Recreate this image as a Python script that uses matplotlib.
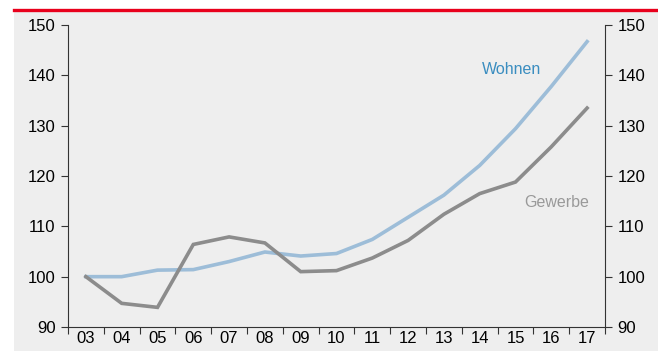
import numpy as np
import matplotlib.pyplot as plt
from matplotlib.patches import Rectangle
from matplotlib.lines import Line2D

# Jahre und Indexwerte (2003 = 100)
jahre = ['03', '04', '05', '06', '07', '08', '09', '10', '11', '12', '13', '14', '15', '16', '17']
wohnen = [100, 100, 101.3, 101.4, 103.0, 104.9, 104.1, 104.6, 107.4, 111.8, 116.2, 122.1, 129.4, 137.8, 146.7]
gewerbe = [100, 94.7, 93.9, 106.4, 107.9, 106.7, 101.0, 101.2, 103.7, 107.2, 112.4, 116.5, 118.8, 125.8, 133.5]
y_ticks = [90, 100, 110, 120, 130, 140, 150]

plt.rcParams['font.family'] = ['Liberation Sans', 'DejaVu Sans']

fig = plt.figure(figsize=(6.58, 3.51), dpi=100)
W, H = 658, 351

# grauer Hintergrund und rote Linie oben
fig.patches.append(Rectangle((14 / W, 0), 1 - 14 / W, 1 - 11 / H, transform=fig.transFigure,
                             facecolor='#eeeeee', edgecolor='none', zorder=-10))
fig.lines.append(Line2D([14 / W, 1], [1 - 10 / H, 1 - 10 / H], transform=fig.transFigure,
                        color='#e8001c', linewidth=2.4, zorder=-5))

ax = fig.add_axes([68 / W, 1 - 327 / H, (605 - 68) / W, (327 - 25) / H])
ax.set_zorder(5)
ax.patch.set_alpha(0)

x = np.arange(len(jahre))
ax.plot(x, wohnen, color='#9dbdd8', linewidth=2.6, solid_joinstyle='miter')
ax.plot(x, gewerbe, color='#8c8c8c', linewidth=2.6, solid_joinstyle='miter')

ax.set_xlim(-0.5, len(jahre) - 0.5)
ax.set_ylim(90, 150)
ax.set_yticks(y_ticks)

# x-Ticks zwischen den Jahren, Beschriftung in der Mitte
ax.set_xticks(np.arange(-0.5, len(jahre), 1.0))
ax.set_xticklabels([])
ax.set_xticks(x, minor=True)
ax.set_xticklabels(jahre, minor=True)
ax.tick_params(axis='x', which='major', direction='out', length=5, width=0.8, color='#333333')
ax.tick_params(axis='x', which='minor', length=0, labelsize=12, pad=3)

ax.tick_params(axis='y', direction='out', length=5, width=0.8, color='#333333',
               labelsize=12, left=True, right=True, labelleft=True, labelright=True, pad=4)

ax.spines['top'].set_visible(False)
for s in ['left', 'right', 'bottom']:
    ax.spines[s].set_color('#333333')
    ax.spines[s].set_linewidth(0.8)

ax.text(11.9, 141.1, 'Wohnen', color='#3a8dc0', fontsize=11.5, ha='center', va='center')
ax.text(13.15, 114.8, 'Gewerbe', color='#999999', fontsize=11.5, ha='center', va='center')

fig.savefig('out.png', dpi=100)
